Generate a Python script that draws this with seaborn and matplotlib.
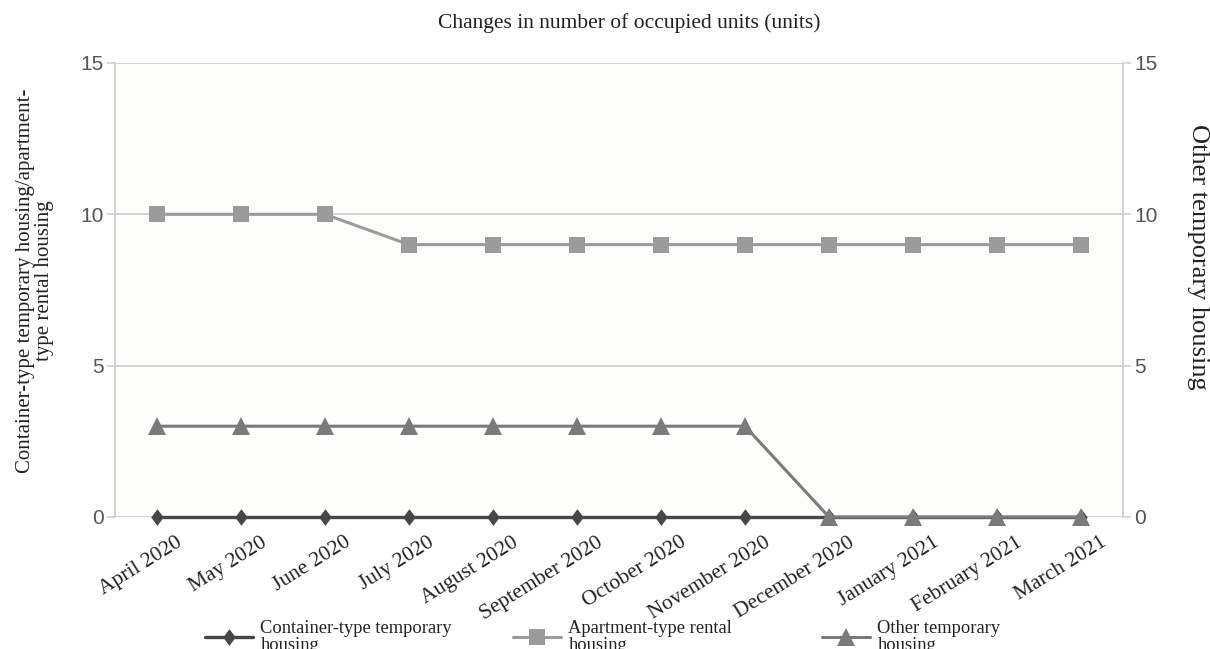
import matplotlib
matplotlib.use("Agg")
import matplotlib.pyplot as plt
import matplotlib.transforms as mtransforms
import seaborn as sns
import pandas as pd
from matplotlib.lines import Line2D

months = ["April 2020", "May 2020", "June 2020", "July 2020", "August 2020",
          "September 2020", "October 2020", "November 2020", "December 2020",
          "January 2021", "February 2021", "March 2021"]
container = [0, 0, 0, 0, 0, 0, 0, 0, 0, 0, 0, 0]
apartment = [10, 10, 10, 9, 9, 9, 9, 9, 9, 9, 9, 9]
other = [3, 3, 3, 3, 3, 3, 3, 3, 0, 0, 0, 0]
yticks = [0, 5, 10, 15]
series_labels = ["Container-type temporary\nhousing", "Apartment-type rental\nhousing",
                 "Other temporary\nhousing"]

sns.set_theme(style="white")
serif = ["Liberation Serif", "DejaVu Serif"]
sans = ["Liberation Sans", "DejaVu Sans"]

df = pd.DataFrame({"idx": range(len(months)), "month": months,
                   "container": container, "apartment": apartment, "other": other})

W, H = 1210, 649
fig = plt.figure(figsize=(W / 100, H / 100), dpi=100)
ax = fig.add_axes([115 / W, 1 - 517 / H, (1123 - 115) / W, (517 - 63) / H])
ax2 = ax.twinx()
ax.set_facecolor("#fdfdfb")

c_cont = "#474747"
c_apt = "#9b9b9b"
c_oth = "#7a7a7a"
diamond = [(0, 1), (0.75, 0), (0, -1), (-0.75, 0), (0, 1)]

for yv in yticks:
    ax.axhline(yv, color="#d2d2d2", lw=1.4, zorder=0)

sns.lineplot(data=df, x="idx", y="apartment", ax=ax, color=c_apt, lw=2.2,
             marker="s", markersize=12, markeredgewidth=0, zorder=3, clip_on=False)
sns.lineplot(data=df, x="idx", y="container", ax=ax, color=c_cont, lw=2.4,
             marker=diamond, markersize=12, markeredgewidth=0, zorder=4, clip_on=False)
sns.lineplot(data=df, x="idx", y="other", ax=ax2, color=c_oth, lw=2.2,
             marker="^", markersize=12.5, markeredgewidth=0, zorder=5, clip_on=False)

for a in (ax, ax2):
    a.set_ylim(0, 15)
    a.set_yticks(yticks)
    a.set_xlim(-0.5, 11.5)
    for s in a.spines.values():
        s.set_visible(False)
    a.tick_params(axis="y", length=6, width=1.2, color="#d2d2d2",
                  labelsize=15, labelcolor="#555555", pad=2)
    for lab in a.get_yticklabels():
        lab.set_family(sans)
ax.spines["left"].set_visible(True)
ax.spines["left"].set_color("#d2d2d2")
ax.spines["left"].set_linewidth(1.4)
ax2.spines["right"].set_visible(True)
ax2.spines["right"].set_color("#d2d2d2")
ax2.spines["right"].set_linewidth(1.4)

ax.set_xticks(range(len(months)))
ax.set_xticklabels(months, rotation=32, ha="right", va="center",
                   rotation_mode="anchor", family=serif, fontsize=15.5, color="#222222")
ax.tick_params(axis="x", length=0, pad=0)
offset = mtransforms.ScaledTranslation(24 / 100, -24 / 100, fig.dpi_scale_trans)
for lab in ax.get_xticklabels():
    lab.set_transform(lab.get_transform() + offset)
ax.set_xlabel("")
ax2.set_xlabel("")

ax.set_ylabel("Container-type temporary housing/apartment-\ntype rental housing",
              family=serif, fontsize=15, color="#222222", linespacing=1.0)
ax.yaxis.set_label_coords(-0.061, (517 - 281) / (517 - 63))
ax2.set_ylabel("Other temporary housing", family=serif, fontsize=19,
               color="#222222", rotation=-90, va="center")
ax2.yaxis.set_label_coords(1 + (1198 - 1123) / (1123 - 115), (517 - 257) / (517 - 63))

fig.text(629 / W, 1 - 23 / H, "Changes in number of occupied units (units)",
         family=serif, fontsize=15.5, color="#222222", ha="center", va="center")

handles = [
    Line2D([], [], color=c_cont, lw=2.4, marker=diamond, markersize=12, markeredgewidth=0),
    Line2D([], [], color=c_apt, lw=2.2, marker="s", markersize=12, markeredgewidth=0),
    Line2D([], [], color=c_oth, lw=2.2, marker="^", markersize=12.5, markeredgewidth=0),
]
legend_x = [205, 513, 822]
for h, lab, lx in zip(handles, series_labels, legend_x):
    leg = fig.legend([h], [lab], loc="center left",
                     bbox_to_anchor=(lx / W, 1 - 637 / H), frameon=False,
                     prop={"family": serif, "size": 13.3}, borderpad=0,
                     borderaxespad=0, handlelength=2.6, handletextpad=0.4)
    for t in leg.get_texts():
        t.set_linespacing(0.95)
        t.set_color("#222222")

fig.savefig("out.png", dpi=100, facecolor="white")
